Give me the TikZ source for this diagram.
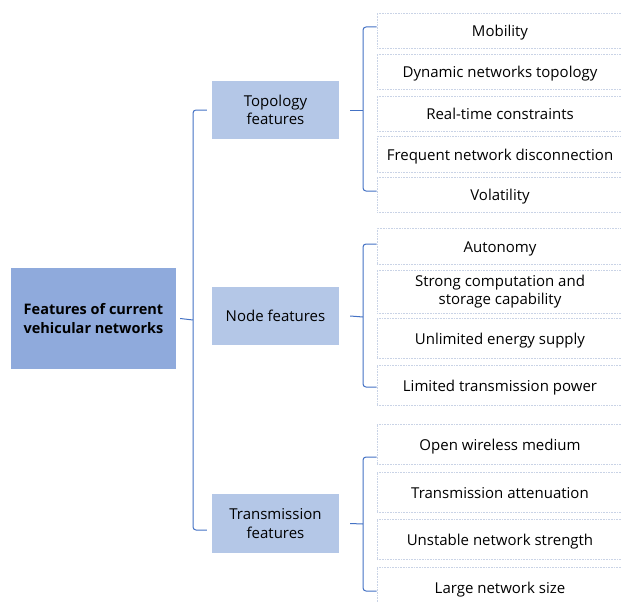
\documentclass[tikz,border=0pt]{standalone}
\usepackage{fontspec}
\setmainfont{Open Sans}
\definecolor{mainblue}{HTML}{8FAADC}
\definecolor{midblue}{HTML}{B4C7E7}
\definecolor{braceblue}{HTML}{4472C4}
\definecolor{leafline}{HTML}{C9D3E6}
\begin{document}
\begin{tikzpicture}[x=1pt,y=-1pt,
  mainbox/.style={fill=mainblue, minimum width=165pt, minimum height=101pt, inner sep=0pt, align=center, font=\fontsize{14.5}{19}\selectfont\bfseries},
  midbox/.style={fill=midblue, minimum width=127pt, minimum height=58pt, inner sep=0pt, align=center, font=\fontsize{15}{18.5}\selectfont},
  leaf/.style={draw=leafline, densely dotted, line width=0.6pt, fill=white, minimum width=246pt, inner sep=0pt, align=center, font=\fontsize{15}{18.5}\selectfont},
  oneline/.style={leaf, text height=12pt, text depth=0pt},
  brace/.style={draw=braceblue, line width=1pt, rounded corners=3pt}]
\useasboundingbox (0,0) rectangle (621,602);
\clip (0,0) rectangle (621,602);
% root
\node[mainbox] (main) at (93.5,318.5) {Features of current\\vehicular networks};
% middle level
\node[midbox] (topo) at (275.5,110) {Topology\\features};
\node[midbox] (node) at (275.5,316) {Node features};
\node[midbox, minimum height=59pt] (trans) at (275.5,523.5) {Transmission\\features};
% leaves: topology
\node[oneline, minimum height=35pt] (m1) at (500,30.5) {Mobility};
\node[oneline, minimum height=35pt] (m2) at (500,71.5) {Dynamic networks topology};
\node[oneline, minimum height=35pt] (m3) at (500,113.5) {Real-time constraints};
\node[oneline, minimum height=36pt] (m4) at (500,154) {Frequent network disconnection};
\node[oneline, minimum height=35pt] (m5) at (500,194.5) {Volatility};
% leaves: node
\node[oneline, minimum height=36pt] (n1) at (500,246) {Autonomy};
\node[leaf, minimum height=43pt] (n2) at (500,291.5) {Strong computation and\\storage capability};
\node[oneline, minimum height=40pt] (n3) at (500,338) {Unlimited energy supply};
\node[oneline, minimum height=40pt] (n4) at (500,385) {Limited transmission power};
% leaves: transmission
\node[oneline, minimum height=40pt] (t1) at (500,444) {Open wireless medium};
\node[oneline, minimum height=40pt] (t2) at (500,492) {Transmission attenuation};
\node[oneline, minimum height=40pt] (t3) at (500,539) {Unstable network strength};
\node[oneline, minimum height=40pt] (t4) at (500,587) {Large network size};
% big brace
\draw[brace] ([xshift=4pt]main.east) -- (193,320);
\draw[brace] ([xshift=-5pt]topo.west) -- (193,110) -- (193,530) -- ([xshift=-5pt]trans.west |- 0,530);
% topology brace
\draw[brace] ([xshift=11pt]topo.east) -- (363,110);
\draw[brace] (m1.west |- 0,27) -- (363,27) -- (363,191) -- (m5.west |- 0,191);
% node brace
\draw[brace] ([xshift=11pt]node.east) -- (363,317);
\draw[brace] (n1.west |- 0,244) -- (363,244) -- (363,387) -- (n4.west |- 0,387);
% transmission brace
\draw[brace] ([xshift=11pt]trans.east) -- (363,524);
\draw[brace] (t1.west |- 0,457) -- (363,457) -- (363,591) -- (t4.west |- 0,591);
\end{tikzpicture}
\end{document}
